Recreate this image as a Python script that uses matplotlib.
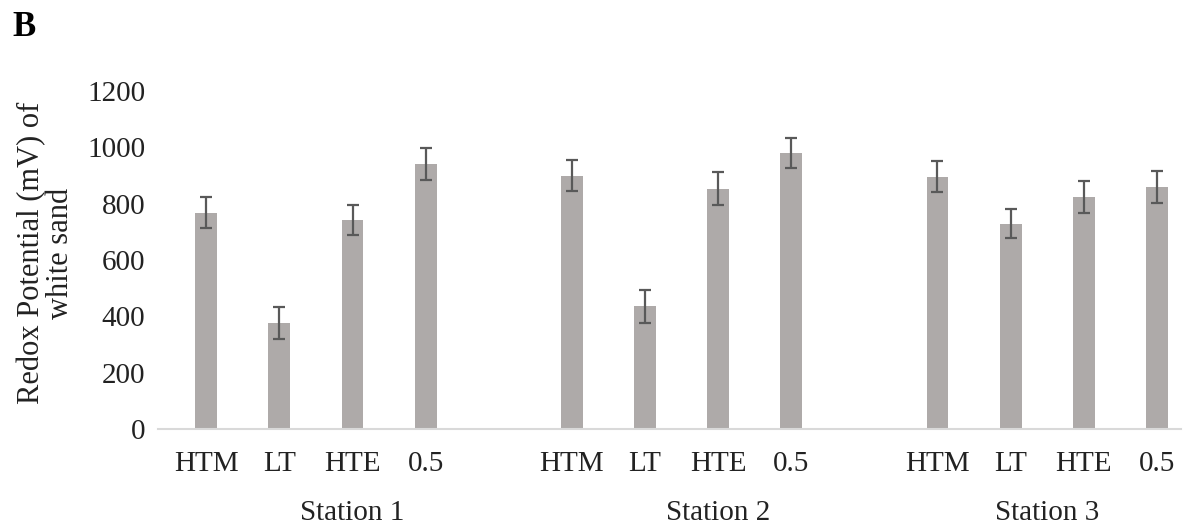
import matplotlib
matplotlib.use("Agg")
import matplotlib.pyplot as plt
import matplotlib.transforms as mtransforms

# sample positions along the shore, three stations
samples = ["HTM", "LT", "HTE", "0.5"]
stations = ["Station 1", "Station 2", "Station 3"]

station1 = [768, 376, 742, 940]
station2 = [900, 435, 853, 979]
station3 = [896, 729, 824, 858]

err1 = [54, 57, 52, 57]
err2 = [54, 58, 58, 53]
err3 = [54, 52, 56, 57]

plt.rcParams["font.family"] = ["Liberation Serif", "DejaVu Serif"]

fig = plt.figure(figsize=(11.86, 5.28), dpi=100)
ax = fig.add_axes([158 / 1186, 99 / 528, (1181 - 158) / 1186, 338 / 528])

values = station1 + station2 + station3
errors = err1 + err2 + err3
# excel style: one empty category between station groups
pos = []
labels = []
for g in range(len(stations)):
    for i, s in enumerate(samples):
        pos.append(g * 5 + i)
        labels.append(s)

ax.bar(pos, values, width=0.3, color="#aeaaa9", zorder=2)
ax.errorbar(pos, values, yerr=errors, fmt="none", ecolor="#595959",
            elinewidth=1.6, capsize=4, capthick=1.6, zorder=3)

ax.set_ylim(0, 1200)
ax.set_yticks(range(0, 1201, 200))
ax.set_xlim(-0.66, 13.33)
ax.set_xticks(pos)
ax.set_xticklabels(labels)
ax.tick_params(axis="both", length=0, labelsize=21, colors="#222222")
ax.tick_params(axis="x", pad=16)
ax.tick_params(axis="y", pad=9)

for side in ["top", "right", "left"]:
    ax.spines[side].set_visible(False)
ax.spines["bottom"].set_color("#d9d9d9")
ax.spines["bottom"].set_linewidth(1.5)

trans = mtransforms.blended_transform_factory(ax.transData, ax.transAxes)
centers = [2, 7, 11.5]
for c, name in zip(centers, stations):
    ax.text(c, -0.25, name, transform=trans, ha="center", va="center",
            fontsize=21, color="#222222")

ax.set_ylabel("Redox Potential (mV) of\nwhite sand", fontsize=22,
              color="#222222", linespacing=1.0)
ax.yaxis.set_label_coords(-0.081, 0.52)

fig.text(12 / 1186, 1 - 27 / 528, "B", fontsize=25, fontweight="bold",
         va="center", ha="left")

fig.savefig("out.png", dpi=100)
